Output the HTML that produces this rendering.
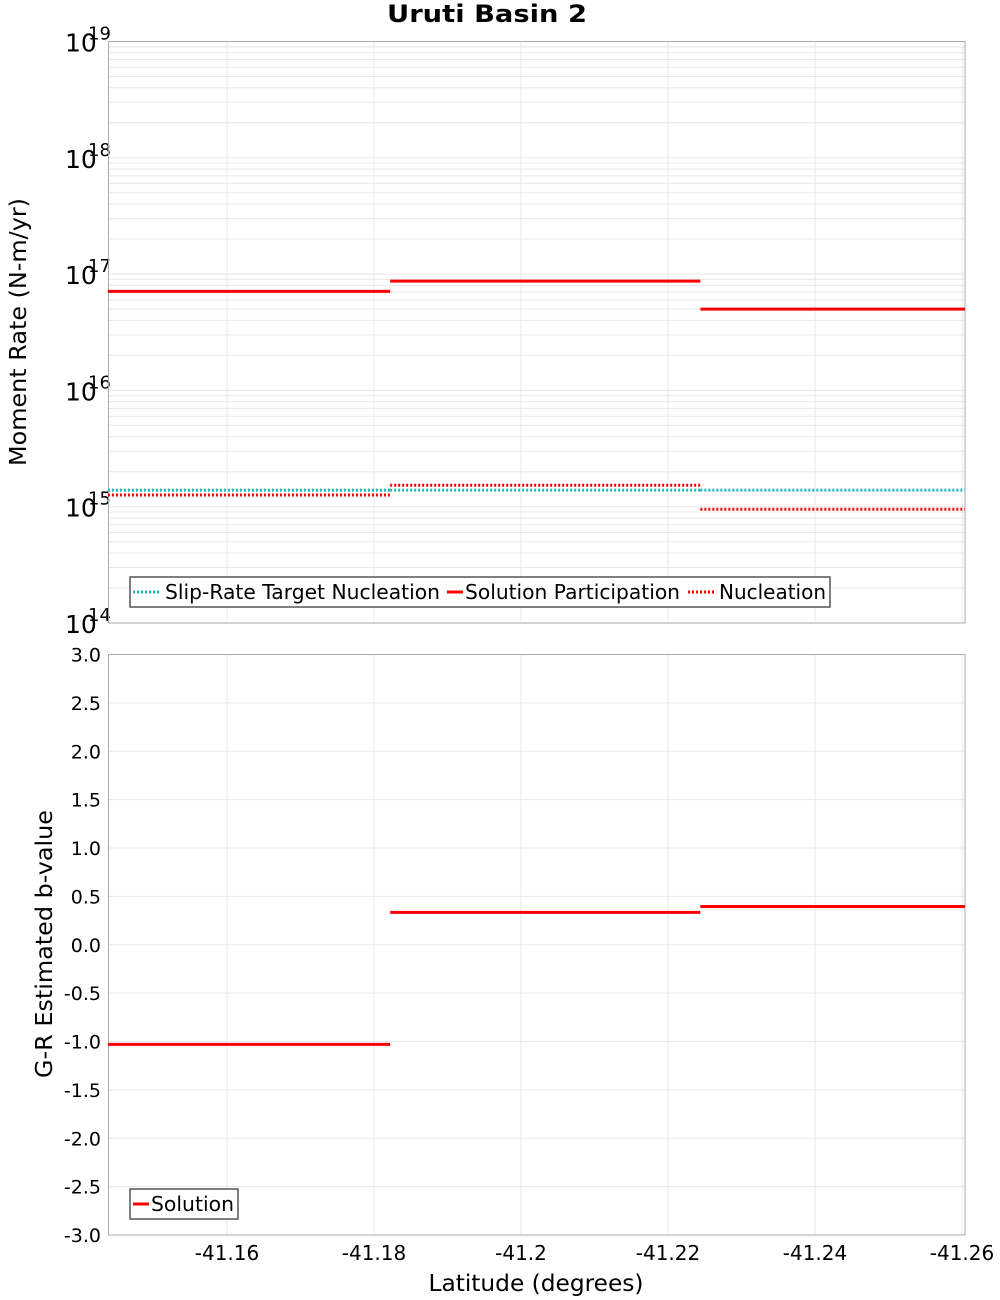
<!DOCTYPE html>
<html><head><meta charset="utf-8"><style>
body{margin:0;background:#fff}
svg{display:block;font-family:"DejaVu Sans","Liberation Sans",sans-serif}
</style></head><body>
<svg id="chart" width="1000" height="1300" xmlns="http://www.w3.org/2000/svg">
<text x="487" y="22" text-anchor="middle" font-size="24" font-weight="bold" textLength="200" lengthAdjust="spacingAndGlyphs">Uruti Basin 2</text>
<text transform="translate(26,332) rotate(-90)" text-anchor="middle" font-size="23" textLength="268" lengthAdjust="spacingAndGlyphs">Moment Rate (N-m/yr)</text>
<text transform="translate(52,944) rotate(-90)" text-anchor="middle" font-size="23" textLength="268" lengthAdjust="spacingAndGlyphs">G-R Estimated b-value</text>
<text x="536" y="1291" text-anchor="middle" font-size="23" textLength="215" lengthAdjust="spacingAndGlyphs">Latitude (degrees)</text>
<g id="g"></g>
</svg>
<script>
const segStarts = [-41.1438, -41.1822, -41.2244];
const segEnds = [-41.1822, -41.2244, -41.2604];
const participation = [7.1e16, 8.7e16, 5.0e16];
const nucleation = [1.26e15, 1.53e15, 9.5e14];
const slipTarget = [1.39e15, 1.39e15, 1.39e15];
const bValues = [-1.03, 0.335, 0.395];
const xTicks = [-41.16, -41.18, -41.2, -41.22, -41.24, -41.26];
const xTickLabels = ["-41.16", "-41.18", "-41.2", "-41.22", "-41.24", "-41.26"];
const bTicks = [3,2.5,2,1.5,1,0.5,0,-0.5,-1,-1.5,-2,-2.5,-3];
const decades = [14,15,16,17,18,19];

const NS="http://www.w3.org/2000/svg";
const g=document.getElementById('g');
function mk(t,a){const e=document.createElementNS(NS,t);for(const k in a)e.setAttribute(k,a[k]);g.appendChild(e);return e;}
const L=108.5,R=965;
const xS=v=>227+(-41.16-v)/0.02*147;
const T1=41.5,B1=623;
const yLog=v=>B1-(Math.log10(v)-14)*(B1-T1)/5;
const T2=654.5,B2=1235;
const yB=v=>T2+(3-v)*(B2-T2)/6;

for(const xv of xTicks){const x=xS(xv);
 let e=mk('line',{x1:x,x2:x,y1:T1,y2:B1,stroke:'#e8e8e8'});
 
 e=mk('line',{x1:x,x2:x,y1:T2,y2:B2,stroke:'#e8e8e8'});
 
 const t=mk('text',{x:x,y:1260,'text-anchor':'middle','font-size':20});t.textContent=xTickLabels[xTicks.indexOf(xv)];
 
}
for(let d=14;d<19;d++)for(let m=1;m<10;m++){const y=yLog(m*Math.pow(10,d));
 const e=mk('line',{x1:L,x2:R,y1:y,y2:y,stroke:'#e8e8e8'});
 }
for(const d of decades){const y=yLog(Math.pow(10,d));
 const t=mk('text',{x:65,y:y+10,'font-size':25});t.textContent='10';
 
 const s=mk('text',{x:88,y:y-2,'font-size':18});s.textContent=String(d);
 }
for(const b of bTicks){const y=yB(b);
 const e=mk('line',{x1:L,x2:R,y1:y,y2:y,stroke:'#e8e8e8'});
 
 const t=mk('text',{x:101,y:y+7,'text-anchor':'end','font-size':19});t.textContent=b.toFixed(1);
 }
let f=mk('rect',{x:L,y:T1,width:R-L,height:B1-T1,fill:'none',stroke:'#aaa'});

f=mk('rect',{x:L,y:T2,width:R-L,height:B2-T2,fill:'none',stroke:'#aaa'});


function seg(vals,yf,color,dash,name){
 for(let i=0;i<vals.length;i++){const y=yf(vals[i]);
  const a={x1:xS(segStarts[i]),x2:xS(segEnds[i]),y1:y,y2:y,stroke:color,'stroke-width':3};
  if(dash)a['stroke-dasharray']=dash;
  const e=mk('line',a);
  
  }
}
seg(nucleation,yLog,'#ff0000','2,2','nucleation-segment');
seg(slipTarget,yLog,'#1fb8b8','2,2','slip-rate-target-segment');
seg(participation,yLog,'#ff0000',null,'participation-segment');
seg(bValues,yB,'#ff0000',null,'b-value-segment');

let lg=mk('rect',{x:130,y:577,width:700,height:30,fill:'#fff',stroke:'#555','stroke-width':1.5});

const items=[[133,'#1fb8b8','2,2','Slip-Rate Target Nucleation',165,275],[447,'#ff0000',null,'Solution Participation',465,215],[688,'#ff0000','2,2','Nucleation',719,107]];
for(const it of items){const a={x1:it[0],x2:it[0]+28,y1:592,y2:592,stroke:it[1],'stroke-width':3};if(it[2])a['stroke-dasharray']=it[2];
 if(!it[2]){a.x2=it[0]+16;}
 const l=mk('line',a);
 const t=mk('text',{x:it[4],y:599,'font-size':20,textLength:it[5],lengthAdjust:'spacingAndGlyphs'});t.textContent=it[3];
 }
lg=mk('rect',{x:130,y:1189,width:108,height:30,fill:'#fff',stroke:'#555','stroke-width':1.5});

let l2=mk('line',{x1:133,x2:149,y1:1204,y2:1204,stroke:'#ff0000','stroke-width':3});

let t2=mk('text',{x:151,y:1211,'font-size':20,textLength:83,lengthAdjust:'spacingAndGlyphs'});t2.textContent='Solution';

</script>
</body></html>
